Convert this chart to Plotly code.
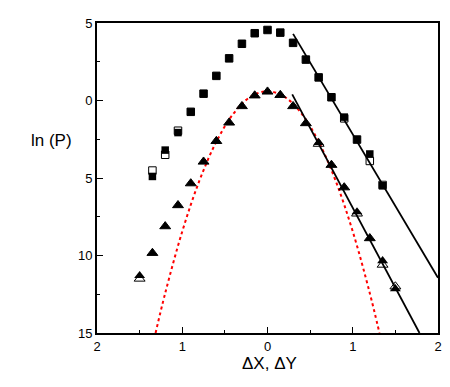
import plotly.graph_objects as go

# %%
dx = [-1.35, -1.2, -1.05, -0.9, -0.75, -0.6, -0.45, -0.3, -0.15, 0.0,
      0.15, 0.3, 0.45, 0.6, 0.75, 0.9, 1.05, 1.2, 1.35]
lnp_x_filled = [-4.9, -3.2, -2.07, -0.73, 0.44, 1.59, 2.72, 3.66, 4.34, 4.55,
                4.38, 3.72, 2.64, 1.49, 0.21, -1.07, -2.52, -3.45, -5.5]
lnp_x_open = [-4.52, -3.5, -1.95, -0.73, 0.44, 1.59, 2.72, 3.66, 4.34, 4.55,
              4.38, 3.72, 2.64, 1.49, 0.21, -1.15, -2.52, -3.9, -5.45]

dy = [-1.5, -1.35, -1.2, -1.05, -0.9, -0.75, -0.6, -0.45, -0.3, -0.15, 0.0,
      0.15, 0.3, 0.45, 0.6, 0.75, 0.9, 1.05, 1.2, 1.35, 1.5]
lnp_y_filled = [-11.3, -9.84, -8.12, -6.76, -5.35, -3.95, -2.62, -1.43, -0.37, 0.32, 0.57,
                0.35, -0.37, -1.47, -2.71, -4.16, -5.61, -7.19, -8.89, -10.34, -12.15]
lnp_y_open = [-11.5, -9.84, -8.12, -6.76, -5.35, -3.95, -2.62, -1.43, -0.37, 0.32, 0.57,
              0.35, -0.37, -1.47, -2.8, -4.16, -5.61, -7.3, -8.89, -10.6, -12.0]

# exponential tails (straight lines in ln P)
tail1_x = [0.3, 2.0]
tail1_y = [4.3, -11.44]
tail2_x = [0.29, 1.783]
tail2_y = [0.4, -15.0]

# gaussian curve
gauss_x = [-1.313, -1.2, -1.0, -0.8, -0.6, -0.4, -0.2, 0.0, 0.2, 0.4, 0.6, 0.8, 1.0, 1.2, 1.313]
gauss_y = [-15.0, -12.43, -8.45, -5.19, -2.66, -0.85, 0.24, 0.6, 0.24, -0.85, -2.66, -5.19, -8.45, -12.43, -15.0]

x_ticks = [-2, -1, 0, 1, 2]
x_ticktext = ["2", "1", "0", "1", "2"]
y_ticks = [5, 0, -5, -10, -15]
y_ticktext = ["5", "0", "5", "10", "15"]

# %%
font_family = "Liberation Sans, Arial, Helvetica, sans-serif"

# page body has an 8px margin, so the figure is drawn 8px smaller
fig = go.Figure(
    layout=go.Layout(
        template="simple_white",
        width=442,
        height=379,
        margin=dict(l=89, r=8, t=12, b=54),
        showlegend=False,
        font=dict(family=font_family, size=13, color="black"),
        plot_bgcolor="white",
        paper_bgcolor="white",
    )
)

fig.add_trace(go.Scatter(
    x=gauss_x, y=gauss_y, mode="lines",
    line=dict(color="#ff0000", width=2, dash="dot", shape="spline"),
))
fig.add_trace(go.Scatter(
    x=tail1_x, y=tail1_y, mode="lines", line=dict(color="black", width=1.8),
))
fig.add_trace(go.Scatter(
    x=tail2_x, y=tail2_y, mode="lines", line=dict(color="black", width=1.8),
))
fig.add_trace(go.Scatter(
    x=dx, y=lnp_x_open, mode="markers",
    marker=dict(symbol="square-open", size=7.5, color="black", line=dict(width=1)),
))
fig.add_trace(go.Scatter(
    x=dx, y=lnp_x_filled, mode="markers",
    marker=dict(symbol="square", size=7.5, color="black", line=dict(width=0)),
))
fig.add_trace(go.Scatter(
    x=dy, y=lnp_y_open, mode="markers",
    marker=dict(symbol="triangle-up-open", size=9.5, color="black", line=dict(width=1)),
))
fig.add_trace(go.Scatter(
    x=dy, y=lnp_y_filled, mode="markers",
    marker=dict(symbol="triangle-up", size=9.5, color="black", line=dict(width=0)),
))

axis_style = dict(
    showline=True, linecolor="black", linewidth=1.8, mirror=True,
    ticks="inside", ticklen=6, tickwidth=1.3, tickcolor="black",
    showgrid=False, zeroline=False,
    tickfont=dict(family=font_family, size=13, color="black"),
)
fig.update_xaxes(
    range=[-2, 2], tickvals=x_ticks, ticktext=x_ticktext,
    minor=dict(dtick=0.5, ticks="inside", ticklen=3.5, tickwidth=1.1, tickcolor="black"),
    **axis_style,
)
fig.update_yaxes(
    range=[-15, 5], tickvals=y_ticks, ticktext=y_ticktext,
    minor=dict(dtick=2.5, ticks="inside", ticklen=3.5, tickwidth=1.1, tickcolor="black"),
    **axis_style,
)

fig.add_annotation(
    text="ln (P)", xref="paper", yref="paper", x=-0.133, y=0.62,
    xanchor="center", yanchor="middle",
    showarrow=False, font=dict(family=font_family, size=17, color="black"),
)
fig.add_annotation(
    text="ΔX, ΔY", xref="paper", yref="paper", x=0.507, y=-0.099,
    xanchor="center", yanchor="middle",
    showarrow=False, font=dict(family=font_family, size=17, color="black"),
)

fig.write_html("out.html")
